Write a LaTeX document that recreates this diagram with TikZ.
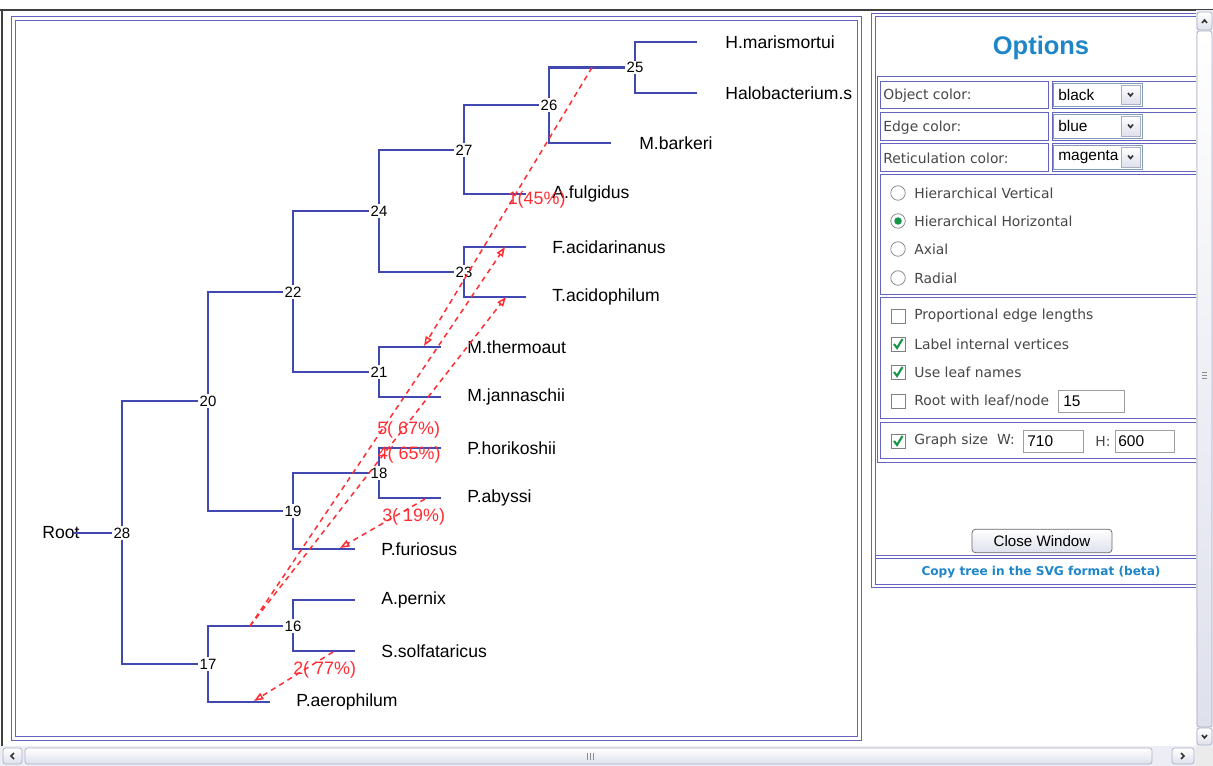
\documentclass[tikz,border=0pt]{standalone}
\usepackage{fontspec}
\setmainfont{Liberation Sans}
\newfontfamily\uifont{DejaVu Sans}
\usetikzlibrary{positioning,arrows.meta}
\definecolor{edge1}{RGB}{66,72,178}
\definecolor{ret1}{RGB}{255,45,50}
\definecolor{frame1}{RGB}{100,100,190}
\definecolor{title1}{RGB}{30,134,200}
\definecolor{bar1}{RGB}{222,224,236}
\definecolor{barline1}{RGB}{172,175,196}
\definecolor{tick1}{RGB}{20,150,70}
\definecolor{combo1}{RGB}{127,157,185}

\begin{document}
\begin{tikzpicture}[
    x=0.02cm, y=-0.02cm,
    edge/.style={draw=edge1, line width=1.35pt},
    vtx/.style={fill=white, inner sep=0.6pt,
                font=\fontsize{8.5}{9}\selectfont},
    leaf/.style={inner sep=0pt, anchor=west,
                 font=\fontsize{10}{12}\selectfont},
    ret/.style={draw=ret1, line width=0.85pt, dash pattern=on 3pt off 2.5pt,
                -{Triangle[open, length=1.9mm, width=1.4mm]}},
    retlab/.style={text=ret1, anchor=west, inner sep=0pt, yshift=0.14cm,
                   xshift=-0.02cm, font=\fontsize{10.2}{12}\selectfont},
    panel/.style={draw=frame1, line width=0.5pt},
    ui/.style={font=\uifont\fontsize{7.9}{9}\selectfont, text=black!72,
               anchor=west, inner sep=0pt},
    val/.style={font=\fontsize{8.8}{10}\selectfont, anchor=west, inner sep=0pt},
    inbox/.style={draw=black!38, fill=white},
    combo/.style={draw=combo1, fill=white},
    knob/.style={draw=barline1, top color=white, bottom color=bar1},
    chev/.style={draw=black!80, line width=0.9pt},
]
\useasboundingbox (0,0) rectangle (1213,766);
\fill[white] (0,0) rectangle (1213,766);
\draw[black!75, line width=1.2pt] (0,10) -- (1213,10);
\draw[black!75, line width=1.2pt] (2,10) -- (2,746);

% tree panel
\draw[panel] (11,16) rectangle (861,740);
\draw[panel] (15,20) rectangle (857,736);

\node[vtx] (n25) at (635,67.5) {25};
\node[vtx] (n26) at (549,105) {26};
\node[vtx] (n27) at (464,150) {27};
\node[vtx] (n23) at (464,272) {23};
\node[vtx] (n24) at (379,211) {24};
\node[vtx] (n21) at (379,372) {21};
\node[vtx] (n22) at (293,292) {22};
\node[vtx] (n18) at (379,473) {18};
\node[vtx] (n19) at (293,511) {19};
\node[vtx] (n20) at (208,401) {20};
\node[vtx] (n16) at (293,626) {16};
\node[vtx] (n17) at (208,664) {17};
\node[vtx] (n28) at (122,533) {28};

\coordinate (hmar) at (697,42);
\coordinate (hsal) at (697,93);
\coordinate (mbar) at (611,143);
\coordinate (aful) at (526,194);
\coordinate (faci) at (526,247);
\coordinate (taci) at (526,297);
\coordinate (mthe) at (441,347);
\coordinate (mjan) at (441,397);
\coordinate (phor) at (441,448);
\coordinate (paby) at (441,498);
\coordinate (pfur) at (355,549);
\coordinate (aper) at (355,600);
\coordinate (ssol) at (355,651);
\coordinate (paer) at (270,702);
\coordinate (rtip) at (74,533);

\node[leaf, right=0.56cm of hmar] (hmarL) {H.marismortui};
\node[leaf, right=0.56cm of hsal] (hsalL) {Halobacterium.s};
\node[leaf, right=0.56cm of mbar] (mbarL) {M.barkeri};
\node[leaf, right=0.52cm of aful] (afulL) {A.fulgidus};
\node[leaf, right=0.52cm of faci] (faciL) {F.acidarinanus};
\node[leaf, right=0.52cm of taci] (taciL) {T.acidophilum};
\node[leaf, right=0.52cm of mthe] (mtheL) {M.thermoaut};
\node[leaf, right=0.52cm of mjan] (mjanL) {M.jannaschii};
\node[leaf, right=0.52cm of phor] (phorL) {P.horikoshii};
\node[leaf, right=0.52cm of paby] (pabyL) {P.abyssi};
\node[leaf, right=0.52cm of pfur] (pfurL) {P.furiosus};
\node[leaf, right=0.52cm of aper] (aperL) {A.pernix};
\node[leaf, right=0.52cm of ssol] (ssolL) {S.solfataricus};
\node[leaf, right=0.52cm of paer] (paerL) {P.aerophilum};
\node[leaf] (root) at (42,533) {Root};

\draw[edge] (n25) |- (hmar);
\draw[edge] (n25) |- (hsal);
\draw[edge] (n26) |- (n25);
\draw[edge] (n26) |- (mbar);
\draw[edge] (n27) |- (n26);
\draw[edge] (n27) |- (aful);
\draw[edge] (n23) |- (faci);
\draw[edge] (n23) |- (taci);
\draw[edge] (n24) |- (n27);
\draw[edge] (n24) |- (n23);
\draw[edge] (n21) |- (mthe);
\draw[edge] (n21) |- (mjan);
\draw[edge] (n22) |- (n24);
\draw[edge] (n22) |- (n21);
\draw[edge] (n18) |- (phor);
\draw[edge] (n18) |- (paby);
\draw[edge] (n19) |- (n18);
\draw[edge] (n19) |- (pfur);
\draw[edge] (n20) |- (n22);
\draw[edge] (n20) |- (n19);
\draw[edge] (n16) |- (aper);
\draw[edge] (n16) |- (ssol);
\draw[edge] (n17) |- (n16);
\draw[edge] (n17) |- (paer);
\draw[edge] (n28) |- (n20);
\draw[edge] (n28) |- (n17);
\draw[edge] (rtip) -- (n28);

% reticulations
\coordinate (r1a) at (592,67.5);
\coordinate (r1b) at (424,346);
\coordinate (r2a) at (333,652);
\coordinate (r2b) at (254,701);
\coordinate (r3a) at (425,499);
\coordinate (r3b) at (340,548);
\coordinate (r45a) at (250,626);
\coordinate (r4b) at (506,297);
\coordinate (r5b) at (505,247);
\draw[ret] (r1a) -- (r1b) node[retlab, midway] {1(45\%)};
\draw[ret] (r2a) -- (r2b) node[retlab, midway] {2( 77\%)};
\draw[ret] (r3a) -- (r3b) node[retlab, midway] {3( 19\%)};
\draw[ret] (r45a) -- (r4b) node[retlab, midway] {4( 65\%)};
\draw[ret] (r45a) -- (r5b) node[retlab, midway] {5( 67\%)};

% options panel
\draw[panel] (871,13) rectangle (1205,587);
\draw[panel] (875,16) rectangle (1205,584);
\node[font=\bfseries\fontsize{14.5}{16}\selectfont, text=title1] (opt) at (1041,48) {Options};
\draw[panel] (877,76) rectangle (1205,462);

\draw[panel] (880,81) rectangle (1048,108);
\draw[panel] (1052,81) rectangle (1205,108);
\draw[panel] (880,112) rectangle (1048,140);
\draw[panel] (1052,112) rectangle (1205,140);
\draw[panel] (880,143) rectangle (1048,171);
\draw[panel] (1052,143) rectangle (1205,171);
\node[ui] (objL) at (883,96) {Object color:};
\node[ui] (edgL) at (883,127.5) {Edge color:};
\node[ui] (retL) at (883,158.5) {Reticulation color:};

\draw[combo] (1053,83) rectangle (1142,106);
\draw[combo] (1053,114) rectangle (1142,138);
\draw[combo] (1053,145) rectangle (1142,169);
\node[val] (objV) at (1058,94.5) {black};
\node[val] (edgV) at (1058,126) {blue};
\node[val] (retV) at (1058,157) {magenta};
\draw[knob] (1121,85) rectangle (1140,104);
\draw[knob] (1121,116) rectangle (1140,136);
\draw[knob] (1121,147) rectangle (1140,167);
\draw[chev] (1128,93) -- (1130.5,96) -- (1133,93);
\draw[chev] (1128,124.5) -- (1130.5,127.5) -- (1133,124.5);
\draw[chev] (1128,155.5) -- (1130.5,158.5) -- (1133,155.5);

\draw[panel] (880,174) rectangle (1205,294);
\draw[black!50, fill=white] (898,193) circle[radius=0.145cm];
\draw[black!50, fill=white] (898,221) circle[radius=0.145cm];
\fill[tick1] (898,221) circle[radius=0.075cm];
\draw[black!50, fill=white] (898,249) circle[radius=0.145cm];
\draw[black!50, fill=white] (898,278) circle[radius=0.145cm];
\node[ui] (hv) at (914,193) {Hierarchical Vertical};
\node[ui] (hh) at (914,221) {Hierarchical Horizontal};
\node[ui] (ax) at (914,249) {Axial};
\node[ui] (rd) at (914,278) {Radial};

\draw[panel] (880,297) rectangle (1205,418);
\draw[black!50, fill=white] (891,309) rectangle (905,323);
\draw[black!50, fill=white] (891,337) rectangle (905,351);
\draw[black!50, fill=white] (891,365) rectangle (905,379);
\draw[black!50, fill=white] (891,394) rectangle (905,408);
\draw[tick1, line width=1.2pt] (894,344) -- (897,348) -- (902.5,339);
\draw[tick1, line width=1.2pt] (894,372) -- (897,376) -- (902.5,367);
\node[ui] (pe) at (914,316) {Proportional edge lengths};
\node[ui] (li) at (914,344) {Label internal vertices};
\node[ui] (ul) at (914,372) {Use leaf names};
\node[ui] (rw) at (914,401) {Root with leaf/node};
\draw[inbox] (1058,390) rectangle (1124,412);
\node[val] (rwV) at (1063,401) {15};

\draw[panel] (880,422) rectangle (1205,458);
\draw[black!50, fill=white] (891,434) rectangle (905,448);
\draw[tick1, line width=1.2pt] (894,441) -- (897,445) -- (902.5,436);
\node[ui] (gs) at (914,441) {Graph size\ \ W:};
\draw[inbox] (1023,430) rectangle (1083,452);
\node[val] (gsW) at (1027,441) {710};
\node[ui] (gsH) at (1095,441) {H:};
\draw[inbox] (1115,430) rectangle (1174,452);
\node[val] (gsHV) at (1118,441) {600};

\node[draw=black!60, rounded corners=2pt, top color=white, bottom color=bar1,
      minimum width=2.8cm, minimum height=0.47cm, inner sep=0pt,
      font=\fontsize{8.6}{10}\selectfont] (close) at (1042,541) {Close Window};
\draw[panel] (875,555) -- (1205,555);
\draw[panel] (875,558) -- (1205,558);
\node[font=\uifont\bfseries\fontsize{6.9}{8}\selectfont, text=title1]
    (svg) at (1041,572) {Copy tree in the SVG format (beta)};

% scroll bars
\fill[bar1!55] (1196,10) rectangle (1213,746);
\draw[knob, rounded corners=1.5pt] (1197,31) rectangle (1212,727);
\draw[knob, rounded corners=1.5pt] (1197,12) rectangle (1212,30);
\draw[knob, rounded corners=1.5pt] (1197,728) rectangle (1212,745);
\draw[chev] (1202,23) -- (1204.5,20) -- (1207,23);
\draw[chev] (1202,735) -- (1204.5,738) -- (1207,735);
\draw[black!45] (1202,372) -- (1207,372);
\draw[black!45] (1202,375) -- (1207,375);
\draw[black!45] (1202,378) -- (1207,378);

\fill[bar1!55] (0,746) rectangle (1196,766);
\draw[knob, rounded corners=1.5pt] (25,748) rectangle (1152,764);
\draw[knob, rounded corners=1.5pt] (3,748) rectangle (22,764);
\draw[knob, rounded corners=1.5pt] (1172,748) rectangle (1194,764);
\draw[chev] (14,753) -- (11,756) -- (14,759);
\draw[chev] (1181,753) -- (1184,756) -- (1181,759);
\draw[black!45] (587,753) -- (587,760);
\draw[black!45] (590,753) -- (590,760);
\draw[black!45] (593,753) -- (593,760);
\fill[black!8] (1196,746) rectangle (1213,766);
\end{tikzpicture}
\end{document}
